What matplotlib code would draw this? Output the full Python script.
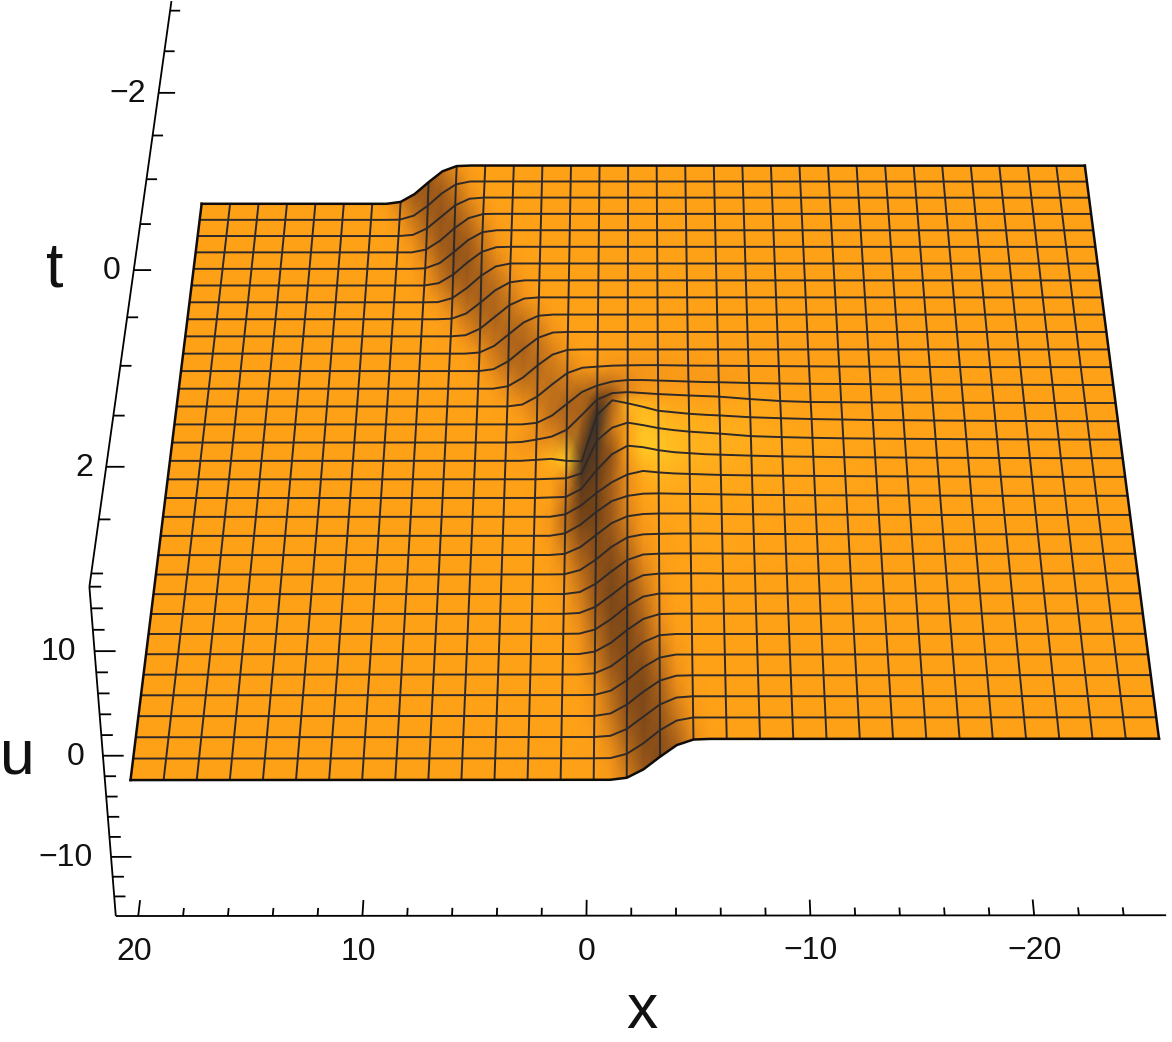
import numpy as np
import matplotlib
matplotlib.use("Agg")
import matplotlib.pyplot as plt
from matplotlib.colors import LinearSegmentedColormap

# ---------- data ----------
U_LOW = -3.7
U_HIGH = 0.3
U_BASE_SHIFT = -1.2     # the row tables below were read relative to a level 1.2 higher
X_MIN, X_MAX = -25.0, 20.0
T_MIN, T_MAX = -3.0, 3.0
N_CELLS = 31

# mesh-cell coordinates of the columns: outer columns every cell, half cells over the kink
c_left = [0, 1, 2, 3, 4, 5]
c_mid = [6 + 0.5 * k for k in range(25)]
c_right = [19, 20, 21, 22, 23, 24, 25, 26, 27, 28, 29, 30, 31]

# u along each mesh row over c_mid: (number of leading low nodes, values read, rest high)
mid_rows = [
    (2, [-2.30, -1.48, -.24, .90, 1.44]),
    (2, [-2.48, -2.06, -1.02, .26, 1.20]),
    (3, [-2.38, -1.70, -.5, .70, 1.38]),
    (4, [-2.20, -1.26, .02, 1.06, 1.48]),
    (4, [-2.44, -1.90, -.76, .48, 1.30]),
    (5, [-2.25, -1.37, -.11, .98, 1.46]),
    (5, [-2.48, -2.06, -1.02, .26, 1.20]),
    (6, [-2.44, -1.90, -.76, .48, 1.30]),
    (7, [-2.38, -1.70, -.5, .70, 1.38]),
    (8, [-2.38, -1.70, -.5, .70, 1.38]),
    (9, [-2.30, -1.48, -.24, .90, 1.44]),
    (10, [-2.25, -1.37, -.11, .98, 1.46]),
    (11, [-2.30, -1.48, -.24, .90, 1.44, 1.55, 1.65, 1.68, 1.7, 1.7, 1.68, 1.66, 1.65, 1.64]),
    (12, [-2.34, -1.6, -.4, .8, 1.45, 1.85, 2.0, 2.0, 1.95, 1.9, 1.85, 1.8, 1.78]),
    (11, [-2.45, -2.2, -1.9, -1.2, .3, 1.85, 2.5, 2.6, 2.5, 2.4, 2.33, 2.26, 2.2, 2.14]),
    (12, [-2.4, -2.3, -2.5, -2.55, 2.1, 3.6, 3.3, 2.95, 2.55, 2.4, 2.25, 2.15, 2.08]),
    (13, [-2.45, -2.4, -1.9, 1.4, 2.7, 3.2, 2.95, 2.65, 2.45, 2.3, 2.2, 2.1]),
    (13, [-2.45, -2.4, -1.6, .3, 1.9, 2.75, 2.6, 2.3, 2.1, 2.0, 1.9, 1.85]),
    (14, [-2.25, -1.37, -.11, .98, 1.75, 2.1, 1.95, 1.85, 1.8, 1.75, 1.7]),
    (14, [-2.25, -1.37, -.11, .98, 1.5, 1.72, 1.75, 1.72, 1.7, 1.68, 1.65]),
    (14, [-2.38, -1.7, -.5, .7, 1.38, 1.6, 1.65, 1.65, 1.65, 1.63, 1.6]),
    (14, [-2.48, -2.06, -1.02, .26, 1.2, 1.5, 1.55, 1.58, 1.58, 1.58, 1.56]),
    (15, [-2.3, -1.48, -.24, .9, 1.44, 1.52, 1.54, 1.54, 1.54, 1.53]),
    (15, [-2.41, -1.8, -.63, .59, 1.34, 1.5, 1.52, 1.52, 1.52, 1.5]),
    (15, [-2.48, -2.06, -1.02, .26, 1.2]),
    (16, [-2.25, -1.37, -.11, .98, 1.46]),
    (16, [-2.38, -1.7, -.5, .7, 1.38]),
    (16, [-2.48, -2.06, -1.02, .26, 1.2]),
    (17, [-2.25, -1.37, -.11, .98, 1.46]),
    (17, [-2.38, -1.7, -.5, .7, 1.38]),
    (17, [-2.48, -2.06, -1.02, .26, 1.2]),
    (18, [-2.3, -1.48, -.24, .9, 1.44]),
]

# u over c_right for the rows that still stand above the high level; every other row is level
right_rows = {
    12: [1.62, 1.6, 1.58, 1.56, 1.55, 1.54, 1.52, 1.51, 1.5, 1.5, 1.5, 1.5, 1.5],
    13: [1.7, 1.65, 1.62, 1.6, 1.58, 1.56, 1.55, 1.54, 1.53, 1.52, 1.51, 1.5, 1.5],
    14: [1.9, 1.7, 1.6, 1.58, 1.56, 1.55, 1.54, 1.53, 1.52, 1.51, 1.5, 1.5, 1.5],
    15: [1.9, 1.8, 1.72, 1.67, 1.62, 1.6, 1.57, 1.55, 1.53, 1.52, 1.51, 1.5, 1.5],
    16: [1.85, 1.75, 1.68, 1.63, 1.6, 1.58, 1.56, 1.54, 1.53, 1.52, 1.51, 1.5, 1.5],
    17: [1.75, 1.68, 1.64, 1.6, 1.58, 1.56, 1.54, 1.53, 1.52, 1.51, 1.5, 1.5, 1.5],
    18: [1.65, 1.62, 1.6, 1.58, 1.56, 1.55, 1.54, 1.53, 1.52, 1.51, 1.5, 1.5, 1.5],
    19: [1.6, 1.58, 1.56, 1.55, 1.54, 1.53, 1.52, 1.51, 1.5, 1.5, 1.5, 1.5, 1.5],
    20: [1.57, 1.55, 1.54, 1.53, 1.52, 1.51, 1.5, 1.5, 1.5, 1.5, 1.5, 1.5, 1.5],
    21: [1.54, 1.53, 1.52, 1.51, 1.5, 1.5, 1.5, 1.5, 1.5, 1.5, 1.5, 1.5, 1.5],
    22: [1.52, 1.51, 1.5, 1.5, 1.5, 1.5, 1.5, 1.5, 1.5, 1.5, 1.5, 1.5, 1.5],
}

x_major = [20, 10, 0, -10, -20]
x_minor = [18, 16, 14, 12, 8, 6, 4, 2, -2, -4, -6, -8, -12, -14, -16, -18, -22, -24]
t_major = [-2, 0, 2]
t_minor = [-3, -2.5, -1.5, -1, -0.5, 0.5, 1, 1.5, 2.5, 3]
u_major = [-10, 0, 10]
u_minor = [-14, -12, -8, -6, -4, -2, 2, 4, 6, 8, 12, 14, 16]

# ---------- camera: 3x4 projection fitted to where the box and surface sit ----------
BOX_X, BOX_X2, BOX_T_NEAR, BOX_T_FAR, BOX_U = 21.0, -25.9, 3.12, -3.12, 16.0
camera_world = np.array([
    (20, 3.12, -16), (10, 3.12, -16), (0, 3.12, -16), (-10, 3.12, -16), (-20, 3.12, -16), (-25.9, 3.12, -16),
    (21, 3.12, -16), (21, 3.12, -10), (21, 3.12, 0), (21, 3.12, 10), (21, 3.12, 16),
    (21, -3, 16), (21, -2, 16), (21, 0, 16), (21, 2, 16), (21, 3, 16),
    (20, -3, -3.7), (-25, -3, 0.3), (20, 3, -3.7), (-25, 3, 0.3),
    (20, -0.871, -3.7), (-25, -0.871, 0.3), (20, 0.484, -3.7), (-25, 0.484, 0.3)], float)
camera_screen = np.array([
    (137, 915), (362, 915), (586, 915), (811, 915), (1035, 915), (1168, 915),
    (115, 915), (112, 857), (105, 756), (97, 652), (88, 585),
    (172, 10), (159, 92), (134, 269), (105, 468), (90, 573),
    (200, 204), (1085, 165), (130, 782), (1158, 740),
    (180, 390), (1108, 350), (162, 519), (1124, 477)], float)

A, b = [], []
for (wx, wt, wu), (sx, sy) in zip(camera_world, camera_screen):
    A.append([wx, wt, wu, 1, 0, 0, 0, 0, -sx * wx, -sx * wt, -sx * wu])
    A.append([0, 0, 0, 0, wx, wt, wu, 1, -sy * wx, -sy * wt, -sy * wu])
    b += [sx, sy]
p = np.linalg.lstsq(np.array(A), np.array(b), rcond=None)[0]
P = np.append(p, 1.0).reshape(3, 4)


def project(x, t, u):
    x, t, u = np.broadcast_arrays(np.asarray(x, float), np.asarray(t, float), np.asarray(u, float))
    w = P[2, 0] * x + P[2, 1] * t + P[2, 2] * u + P[2, 3]
    return ((P[0, 0] * x + P[0, 1] * t + P[0, 2] * u + P[0, 3]) / w,
            (P[1, 0] * x + P[1, 1] * t + P[1, 2] * u + P[1, 3]) / w)


# ---------- surface ----------
c = np.array(c_left + c_mid + c_right, float)
LOW0, HIGH0 = U_LOW - U_BASE_SHIFT, U_HIGH - U_BASE_SHIFT
rows = []
for j, (n, vals) in enumerate(mid_rows):
    mid = [LOW0] * n + vals + [HIGH0] * (len(c_mid) - n - len(vals))
    rows.append([LOW0] * len(c_left) + mid + right_rows.get(j, [HIGH0] * len(c_right)))
U = np.array(rows) + U_BASE_SHIFT
j_idx = np.arange(N_CELLS + 1, dtype=float)
x_nodes = X_MAX - (X_MAX - X_MIN) / N_CELLS * c
t_nodes = T_MIN + (T_MAX - T_MIN) / N_CELLS * j_idx
XG, TG = np.meshgrid(x_nodes, t_nodes)
SX, SY = project(XG, TG, U)

# lighting of the surface from its own slopes
dU_dc = np.gradient(U, c, axis=1)
dU_dj = np.gradient(U, axis=0)
shade = 0.25 * dU_dc + 0.24 * dU_dj

V0, V1 = -0.3, 1.6


def pos(v):
    return (v - V0) / (V1 - V0)


surface_cmap = LinearSegmentedColormap.from_list("surface", [
    (0.0, (1.0, 0.84, 0.16)),
    (pos(0), (1.0, 0.63, 0.09)),
    (pos(0.12), (0.93, 0.56, 0.10)),
    (pos(0.4), (0.60, 0.34, 0.10)),
    (pos(0.55), (0.43, 0.25, 0.09)),
    (pos(1.2), (0.25, 0.20, 0.16)),
    (1.0, (0.21, 0.19, 0.17))])

fig = plt.figure(figsize=(11.72, 10.42), dpi=100)
ax = fig.add_axes([0, 0, 1, 1])
ax.set_xlim(0, 1172)
ax.set_ylim(1042, 0)
ax.axis("off")
plt.rcParams["font.family"] = ["Liberation Sans", "DejaVu Sans"]

ax.pcolormesh(SX, SY, shade, shading="gouraud", cmap=surface_cmap, vmin=V0, vmax=V1, zorder=1)

MESH = "#2f2a28"
for j in range(1, N_CELLS):
    ax.plot(SX[j], SY[j], color=MESH, lw=1.4, zorder=2, solid_capstyle="butt")
is_mesh_col = np.isclose(c, np.round(c))
for k in np.where(is_mesh_col)[0][1:-1]:
    ax.plot(SX[:, k], SY[:, k], color=MESH, lw=1.4, zorder=2, solid_capstyle="butt")
for sx, sy in ((SX[0], SY[0]), (SX[-1], SY[-1]), (SX[:, 0], SY[:, 0]), (SX[:, -1], SY[:, -1])):
    ax.plot(sx, sy, color="#100c0a", lw=1.8, zorder=3, solid_capstyle="projecting")

# ---------- box edges, ticks, labels ----------
AX = dict(color="black", lw=1.3, zorder=4, solid_capstyle="butt", clip_on=True)


def seg(a, b_):
    ax.plot(*[np.array(v) for v in zip(project(*a), project(*b_))], **AX)


seg((BOX_X, BOX_T_NEAR, -BOX_U), (BOX_X2, BOX_T_NEAR, -BOX_U))
seg((BOX_X, BOX_T_NEAR, -BOX_U), (BOX_X, BOX_T_NEAR, BOX_U))
seg((BOX_X, BOX_T_NEAR, BOX_U), (BOX_X, BOX_T_FAR, BOX_U))

FS_TICK = 23
for v in x_major + x_minor:
    d = 0.14 if v in x_major else 0.07
    seg((v, BOX_T_NEAR, -BOX_U), (v, BOX_T_NEAR - d, -BOX_U))
for v in u_major + u_minor:
    d = 0.9 if v in u_major else 0.5
    seg((BOX_X, BOX_T_NEAR, v), (BOX_X - d, BOX_T_NEAR, v))
for v in t_major + t_minor:
    d = 0.8 if v in t_major else 0.5
    seg((BOX_X, v, BOX_U), (BOX_X - d, v, BOX_U))


def lab(v):
    return f"\u2212{abs(v)}" if v < 0 else f"{v}"


for v in x_major:
    px, py = project(v, BOX_T_NEAR, -BOX_U)
    ax.text(float(px) - (4 if v > 0 else 0), float(py) + 36, lab(v), ha="center", va="center",
            fontsize=FS_TICK, color="#111111")
for v in u_major:
    px, py = project(BOX_X, BOX_T_NEAR, v)
    ax.text(float(px) - 18, float(py) + 1, lab(v), ha="right", va="center", fontsize=FS_TICK, color="#111111")
for v in t_major:
    px, py = project(BOX_X, v, BOX_U)
    ax.text(float(px) - 13, float(py) + 1, lab(v), ha="right", va="center", fontsize=FS_TICK, color="#111111")

ax.text(642, 1028, "x", ha="center", va="baseline", fontsize=45, color="#111111")
ax.text(55, 270, "t", ha="center", va="center", fontsize=45, color="#111111")
ax.text(17, 757, "u", ha="center", va="center", fontsize=45, color="#111111")

fig.savefig("out.png", dpi=100)
